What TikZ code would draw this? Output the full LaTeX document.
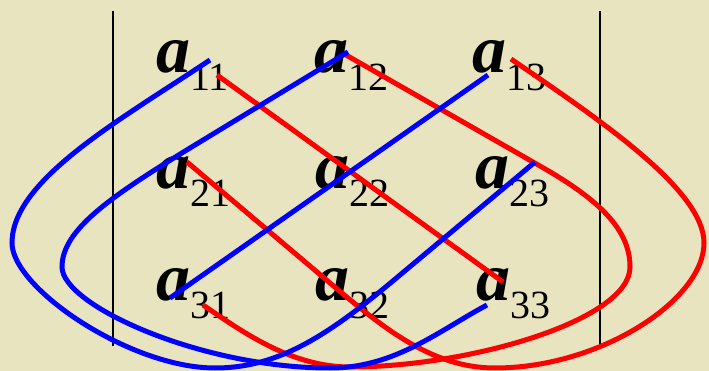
\documentclass[tikz,border=0pt]{standalone}
\usepackage{fontspec}
\setmainfont{Liberation Serif}
\usepackage{xcolor}
\usepackage{tikz}
\definecolor{paper}{HTML}{E8E4C0}
\definecolor{plusred}{HTML}{FF0000}
\definecolor{minusblue}{HTML}{0000FF}
\newcommand{\matel}[1]{{\fontsize{68}{68}\selectfont\bfseries\itshape a}\raisebox{-18pt}{\fontsize{40}{40}\selectfont #1}}

\begin{document}
\begin{tikzpicture}[x=1pt,y=-1pt]
  \tikzstyle{elem}=[inner sep=0pt,outer sep=0pt,anchor=base west]
  \tikzstyle{bar}=[black,line width=1.6pt]
  \tikzstyle{plus}=[plusred,line width=5pt]
  \tikzstyle{minus}=[minusblue,line width=5pt]
  \fill[paper] (0,0) rectangle (709,371);
  \draw[bar] (113,11) -- (113,346);
  \draw[bar] (600,11) -- (600,346);
  \node[elem] (a11) at (156,73) {\matel{11}};
  \node[elem] (a12) at (314,73) {\matel{12}};
  \node[elem] (a13) at (472,73) {\matel{13}};
  \node[elem] (a21) at (156,189) {\matel{21}};
  \node[elem] (a22) at (315,189) {\matel{22}};
  \node[elem] (a23) at (475,189) {\matel{23}};
  \node[elem] (a31) at (156,300) {\matel{31}};
  \node[elem] (a32) at (315,300) {\matel{32}};
  \node[elem] (a33) at (476,300) {\matel{33}};
  \coordinate (p11) at (217,75);
  \coordinate (p33) at (503,282);
  \coordinate (p12) at (346,55);
  \coordinate (p23) at (540,166);
  \coordinate (p31) at (203,305);
  \coordinate (p13) at (511,59);
  \coordinate (p32) at (330,283);
  \coordinate (p21) at (187,162);
  \coordinate (m13) at (488,75);
  \coordinate (m31) at (170,298);
  \coordinate (m12) at (348,52);
  \coordinate (m21) at (190,148);
  \coordinate (m33) at (487,305);
  \coordinate (m11) at (210,60);
  \coordinate (m23) at (535,162);
  \coordinate (m32) at (400,275);
  \draw[plus] (p11) -- (p33);
  \draw[plus] (p12) -- (p23) .. controls (600,200) and (630,230) .. (630,267) .. controls (630,320) and (470,367) .. (350,367) .. controls (290,367) and (240,330) .. (p31);
  \draw[plus] (p13) .. controls (600,120) and (704,190) .. (704,243) .. controls (704,300) and (600,368) .. (495,368) .. controls (430,368) and (380,325) .. (p32) -- (p21);
  \draw[minus] (m13) -- (m31);
  \draw[minus] (m12) -- (m21) .. controls (110,197) and (62,230) .. (62,267) .. controls (62,305) and (200,368) .. (330,368) .. controls (395,368) and (440,330) .. (m33);
  \draw[minus] (m11) .. controls (120,120) and (12,180) .. (12,243) .. controls (12,288) and (130,368) .. (215,368) .. controls (280,368) and (330,334) .. (m32) -- (m23);
\end{tikzpicture}
\end{document}
